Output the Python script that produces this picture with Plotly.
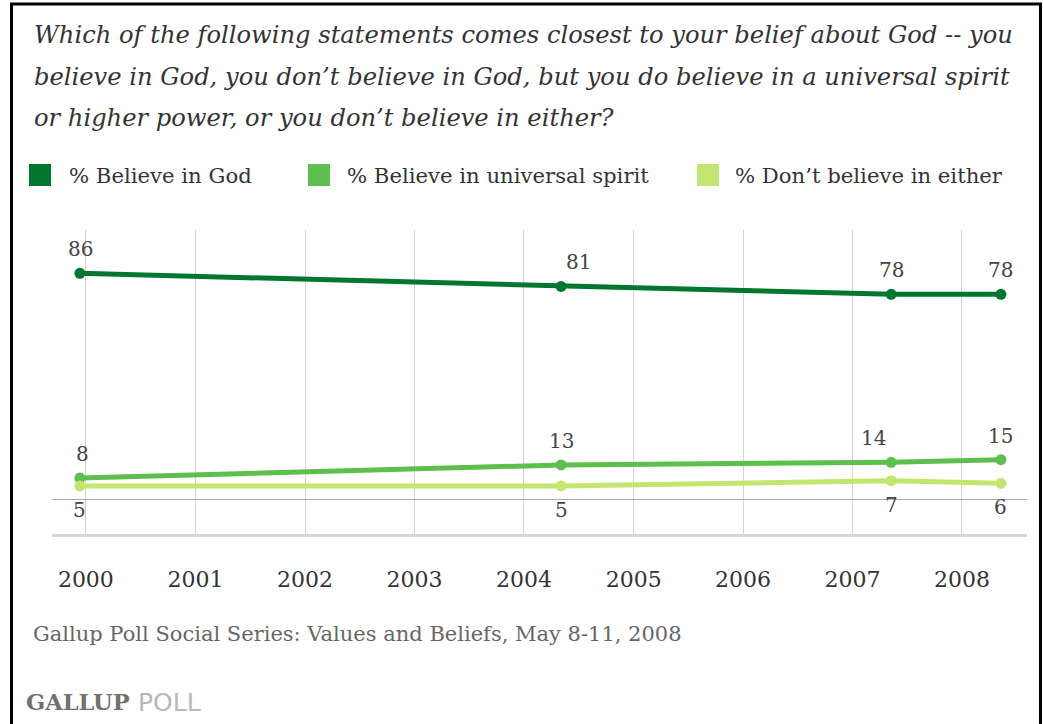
import plotly.graph_objects as go

# ---- data ----
dates = ["1999-12-12", "2004-05-04", "2007-05-10", "2008-05-10"]
believe_god = [86, 81, 78, 78]
universal_spirit = [8, 13, 14, 15]
neither = [5, 5, 7, 6]
series_names = ["% Believe in God", "% Believe in universal spirit", "% Don\u2019t believe in either"]
colors = ["#00762F", "#5DBF4E", "#C4E670"]
title_lines = [
    "Which of the following statements comes closest to your belief about God -- you",
    "believe in God, you don\u2019t believe in God, but you do believe in a universal spirit",
    "or higher power, or you don\u2019t believe in either?",
]
source = "Gallup Poll Social Series: Values and Beliefs, May 8-11, 2008"

# label placement (style): vertical side and small horizontal nudges per point
label_side = [1, 1, -1]
label_xshift = [[1, 17, 0, 0], [3, 0, -18, 0], [0, 0, 0, 0]]

W, H = 1043, 724
L, R, T, B = 52, 1027, 230, 534  # plot area in pixels


def px(x):
    return (x - L) / (R - L)


def py(y):
    return (B - y) / (B - T)


SERIF = "DejaVu Serif"
fig = go.Figure()
annotations = []

series = [believe_god, universal_spirit, neither]
for k, (vals, name, col) in enumerate(zip(series, series_names, colors)):
    fig.add_trace(go.Scatter(
        x=dates, y=vals, name=name, mode="lines+markers",
        line=dict(color=col, width=5),
        marker=dict(color=col, size=11),
        showlegend=False, cliponaxis=False, hoverinfo="skip",
    ))
    for j, (d, v) in enumerate(zip(dates, vals)):
        annotations.append(dict(
            text=str(v), x=d, y=v, xref="x", yref="y", showarrow=False,
            xanchor="center", yanchor="middle",
            xshift=label_xshift[k][j], yshift=24 * label_side[k],
            font=dict(family=SERIF, size=20, color="#444444"),
        ))

for i, line in enumerate(title_lines):
    annotations.append(dict(
        text=line, x=px(32), y=py(35 + 41.5 * i), xref="paper", yref="paper",
        xanchor="left", yanchor="middle", showarrow=False,
        font=dict(family=SERIF, size=24.2, color="#333333", style="italic"),
    ))

shapes = []
legend_sq = [29, 308, 697]
legend_tx = [67, 345, 733]
for sx, tx, name, col in zip(legend_sq, legend_tx, series_names, colors):
    shapes.append(dict(type="rect", xref="paper", yref="paper",
                       x0=px(sx), x1=px(sx + 22), y0=py(186), y1=py(164),
                       fillcolor=col, line=dict(width=0)))
    annotations.append(dict(
        text=name, x=px(tx), y=py(175), xref="paper", yref="paper",
        xanchor="left", yanchor="middle", showarrow=False,
        font=dict(family=SERIF, size=21.2, color="#333333"),
    ))

annotations.append(dict(
    text=source, x=px(31), y=py(634), xref="paper", yref="paper",
    xanchor="left", yanchor="middle", showarrow=False,
    font=dict(family=SERIF, size=21, color="#666666"),
))
annotations.append(dict(
    text="<b>GALLUP</b>", x=px(24), y=py(702), xref="paper", yref="paper",
    xanchor="left", yanchor="middle", showarrow=False,
    font=dict(family=SERIF, size=22.5, color="#707070"),
))
annotations.append(dict(
    text="POLL", x=px(136), y=py(702), xref="paper", yref="paper",
    xanchor="left", yanchor="middle", showarrow=False,
    font=dict(family="DejaVu Sans", size=25, color="#b8b8b8"),
))

# outer black frame
shapes.append(dict(type="rect", xref="paper", yref="paper",
                   x0=px(11.5), x1=px(1040.5), y0=py(760), y1=py(4),
                   line=dict(color="black", width=3), fillcolor="rgba(0,0,0,0)",
                   layer="above"))

fig.update_layout(
    width=W, height=H,
    margin=dict(l=L, r=W - R, t=T, b=H - B),
    paper_bgcolor="white", plot_bgcolor="white",
    annotations=annotations, shapes=shapes,
    xaxis=dict(
        type="date", range=["1999-09-10", "2008-08-05"],
        tick0="2000-01-01", dtick="M12", tickformat="%Y",
        showgrid=True, gridcolor="#D4D4D4", gridwidth=1,
        showline=True, linecolor="#D6D6D6", linewidth=3,
        ticks="outside", ticklen=24, tickcolor="rgba(0,0,0,0)",
        tickfont=dict(family=SERIF, size=22, color="#333333"),
        zeroline=False, fixedrange=True,
    ),
    yaxis=dict(
        range=[-13.3, 102.5], showgrid=False, showticklabels=False,
        zeroline=True, zerolinecolor="#AAAAAA", zerolinewidth=1,
        showline=False, ticks="", fixedrange=True,
    ),
)

fig.write_html(
    "out.html",
    config={"displayModeBar": False},
    post_script="document.body.style.margin='0';document.body.style.overflow='hidden';",
)
